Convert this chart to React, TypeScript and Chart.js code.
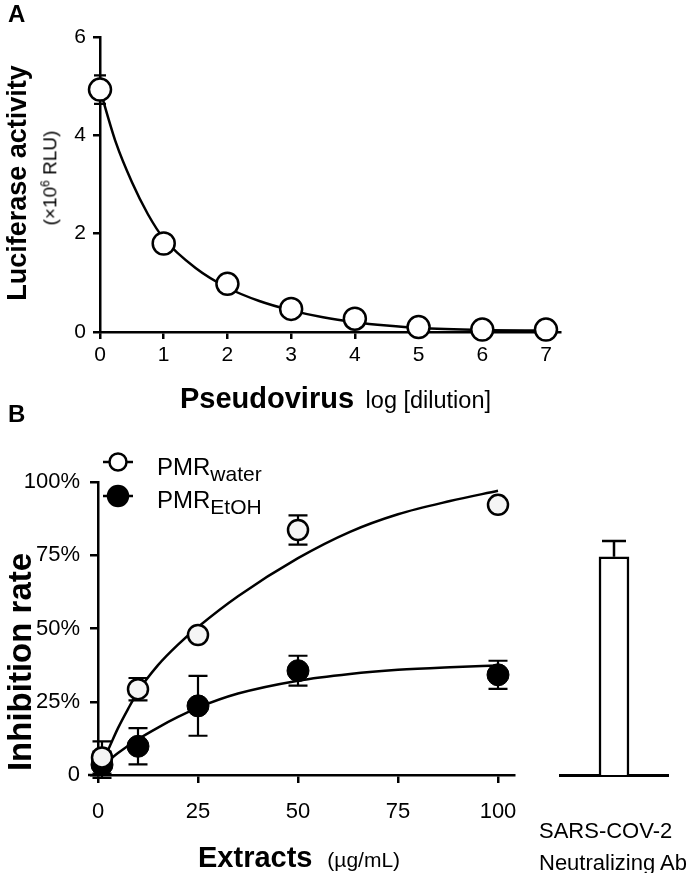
import React, { useEffect, useRef } from 'react';
import { Chart, registerables } from 'chart.js';
Chart.register(...registerables);

const FONT = '"Liberation Sans", Arial, Helvetica, sans-serif';

// ---------- Panel A data ----------
const dilutionLog = [0, 1, 2, 3, 4, 5, 6, 7];
const luciferase = [4.93, 1.8, 0.98, 0.47, 0.27, 0.1, 0.05, 0.05];
const luciferaseErr = [0.29, 0.08, 0.05, 0.04, 0.03, 0.02, 0.01, 0.01];
const fitAx = [0, 0.25, 0.5, 0.75, 1, 1.5, 2, 2.5, 3, 3.5, 4, 4.5, 5, 6, 7];
const fitAy = [4.93, 3.85, 3.05, 2.4, 1.9, 1.3, 0.9, 0.63, 0.44, 0.3, 0.2, 0.13, 0.08, 0.04, 0.03];
const xTicksA = [0, 1, 2, 3, 4, 5, 6, 7];
const yTicksA = [0, 2, 4, 6];

// ---------- Panel B data ----------
const extractDose = [1, 10, 25, 50, 100];
const pmrWater = [6, 29.3, 47.8, 83.6, 92.2];
const pmrWaterErr = [5.5, 3.8, 1.5, 5.0, 1.5];
const pmrEtoh = [3.5, 9.8, 23.6, 35.6, 34.2];
const pmrEtohErr = [4.5, 6.2, 10.2, 5.1, 4.8];
const fitWaterX = [1, 3, 5, 7.5, 10, 15, 20, 25, 35, 50, 63, 75, 88, 100];
const fitWaterY = [4, 10, 16, 22.5, 28.5, 37.5, 44.5, 50.5, 61, 74, 83, 89, 93.5, 97];
const fitEtohX = [1, 3, 5, 10, 15, 20, 25, 35, 50, 63, 75, 88, 100];
const fitEtohY = [3, 5.3, 7.5, 12.2, 16.2, 19.8, 23, 27.8, 32.2, 34.5, 35.9, 36.8, 37.4];
const xTicksB = [0, 25, 50, 75, 100];
const yTicksB = [0, 25, 50, 75, 100];
const abLabelLines = ['SARS-COV-2', 'Neutralizing Ab'];
const abValue = [74.5];
const abErr = [5.4];

const pairs = (xs: number[], ys: number[]) => xs.map((x, i) => ({ x, y: ys[i] }));

function drawErrors(chart: any, after: boolean) {
  const ctx = chart.ctx;
  chart.data.datasets.forEach((ds: any, i: number) => {
    if (!ds.errors) return;
    if (!!ds.errAfter !== after) return;
    const meta = chart.getDatasetMeta(i);
    const ys = chart.scales.y;
    ctx.save();
    ctx.strokeStyle = '#000';
    ctx.lineWidth = ds.errWidth ?? 2.2;
    meta.data.forEach((el: any, j: number) => {
      const raw = ds.data[j];
      const val = typeof raw === 'object' ? raw.y : raw;
      const e = ds.errors[j];
      const x = el.x;
      const top = ys.getPixelForValue(val + e);
      const bot = ds.errUpOnly ? ys.getPixelForValue(val) : ys.getPixelForValue(val - e);
      const w = (ds.errCap ?? 16) / 2;
      ctx.beginPath();
      ctx.moveTo(x, top);
      ctx.lineTo(x, bot);
      ctx.moveTo(x - w, top);
      ctx.lineTo(x + w, top);
      if (!ds.errUpOnly) {
        ctx.moveTo(x - w, bot);
        ctx.lineTo(x + w, bot);
      }
      ctx.stroke();
    });
    ctx.restore();
  });
}

const errorBarPlugin = {
  id: 'errBars',
  beforeDatasetsDraw(chart: any) { drawErrors(chart, false); },
  afterDatasetsDraw(chart: any) { drawErrors(chart, true); },
};

const axisStyle = (tickLen: number, pad: number, size = 21) => ({
  border: { display: true, color: '#000', width: 2.5 },
  grid: { drawOnChartArea: false, drawTicks: true, tickLength: tickLen, color: '#000', lineWidth: 2.5, tickWidth: 2.5, tickColor: '#000' },
  ticks: { color: '#000', font: { family: FONT, size }, padding: pad, autoSkip: false, maxRotation: 0 },
});

function PanelA() {
  const ref = useRef<HTMLCanvasElement>(null);
  useEffect(() => {
    const chart = new Chart(ref.current!, {
      type: 'scatter',
      data: {
        datasets: [
          {
            data: pairs(dilutionLog, luciferase),
            errors: luciferaseErr, errCap: 12, clip: false,
            pointRadius: 11, pointBackgroundColor: '#fff', pointBorderColor: '#000', pointBorderWidth: 2.5,
            showLine: false,
          } as any,
          {
            data: pairs(fitAx, fitAy), clip: false,
            showLine: true, pointRadius: 0, borderColor: '#000', borderWidth: 2.5,
            cubicInterpolationMode: 'monotone', fill: false,
          },
        ],
      },
      options: {
        animation: false, responsive: false, events: [],
        plugins: { legend: { display: false }, tooltip: { enabled: false } },
        layout: { padding: { left: 0, top: 37, right: 136, bottom: 0 } },
        scales: {
          x: {
            type: 'linear', min: 0, max: 7.22, ...axisStyle(7, 4),
            afterBuildTicks: (s: any) => { s.ticks = xTicksA.map((v) => ({ value: v })); },
            afterFit: (s: any) => { s.height = 88; },
          },
          y: {
            type: 'linear', min: 0, max: 6, ...axisStyle(7, 7),
            afterBuildTicks: (s: any) => { s.ticks = yTicksA.map((v) => ({ value: v })); },
            afterFit: (s: any) => { s.width = 100; },
          },
        },
      },
      plugins: [errorBarPlugin],
    } as any);
    return () => chart.destroy();
  }, []);
  return <canvas ref={ref} width={696} height={420} style={{ position: 'absolute', left: 0, top: 0 }} />;
}

const legendSymbolPlugin = {
  id: 'legendSym',
  afterDraw(chart: any) {
    const ctx = chart.ctx;
    const { left, bottom } = chart.chartArea;
    ctx.save();
    ctx.strokeStyle = '#000';
    ctx.lineWidth = 2.5;
    ctx.beginPath();
    ctx.moveTo(left - 10, bottom);
    ctx.lineTo(left, bottom);
    ctx.stroke();
    const items = [
      { y: 32, r: 8.5, fill: '#fff' },
      { y: 66, r: 10, fill: '#000' },
    ];
    items.forEach((it) => {
      ctx.beginPath();
      ctx.moveTo(103, it.y);
      ctx.lineTo(133, it.y);
      ctx.stroke();
      ctx.beginPath();
      ctx.arc(118, it.y, it.r, 0, Math.PI * 2);
      ctx.fillStyle = it.fill;
      ctx.fill();
      ctx.stroke();
    });
    ctx.restore();
  },
};

function PanelB() {
  const ref = useRef<HTMLCanvasElement>(null);
  useEffect(() => {
    const chart = new Chart(ref.current!, {
      type: 'scatter',
      data: {
        datasets: [
          {
            data: pairs(extractDose, pmrWater), errors: pmrWaterErr, errCap: 19, clip: false,
            pointRadius: 10, pointBackgroundColor: '#f5f5f5', pointBorderColor: '#000', pointBorderWidth: 2.5,
            showLine: false,
          } as any,
          {
            data: pairs(extractDose, pmrEtoh), errors: pmrEtohErr, errCap: 19, clip: false,
            pointRadius: 11, pointBackgroundColor: '#000', pointBorderColor: '#000', pointBorderWidth: 1,
            showLine: false,
          } as any,
          {
            data: pairs(fitWaterX, fitWaterY), showLine: true, pointRadius: 0, clip: false,
            borderColor: '#000', borderWidth: 2.5, cubicInterpolationMode: 'monotone',
          },
          {
            data: pairs(fitEtohX, fitEtohY), showLine: true, pointRadius: 0, clip: false,
            borderColor: '#000', borderWidth: 2.5, cubicInterpolationMode: 'monotone',
          },
        ],
      },
      options: {
        animation: false, responsive: false, events: [],
        plugins: { legend: { display: false }, tooltip: { enabled: false } },
        layout: { padding: { left: 0, top: 52, right: 26, bottom: 0 } },
        scales: {
          x: {
            type: 'linear', min: 0, max: 104, ...axisStyle(8, 16, 22),
            afterBuildTicks: (s: any) => { s.ticks = xTicksB.map((v) => ({ value: v })); },
            afterFit: (s: any) => { s.height = 98; },
          },
          y: {
            type: 'linear', min: 0, max: 100, ...axisStyle(8, 10, 22),
            afterBuildTicks: (s: any) => { s.ticks = yTicksB.map((v) => ({ value: v })); },
            afterFit: (s: any) => { s.width = 98; },
            ticks: { ...axisStyle(8, 10, 22).ticks, callback: (v: any) => (v === 0 ? '0' : v + '%') },
          },
        },
      },
      plugins: [errorBarPlugin, legendSymbolPlugin],
    } as any);
    return () => chart.destroy();
  }, []);
  return <canvas ref={ref} width={540} height={443} style={{ position: 'absolute', left: 0, top: 430 }} />;
}

function PanelAb() {
  const ref = useRef<HTMLCanvasElement>(null);
  useEffect(() => {
    const chart = new Chart(ref.current!, {
      type: 'bar',
      data: {
        labels: [abLabelLines.join(' ')],
        datasets: [
          {
            data: abValue, errors: abErr, errUpOnly: true, errAfter: true, errCap: 24, errWidth: 2.5,
            backgroundColor: '#fff', borderColor: '#000', borderWidth: 2.5, barThickness: 30,
            borderSkipped: 'bottom',
          } as any,
        ],
      },
      options: {
        animation: false, responsive: false, events: [],
        plugins: { legend: { display: false }, tooltip: { enabled: false } },
        layout: { padding: { left: 20, top: 52, right: 28, bottom: 0 } },
        scales: {
          x: {
            border: { display: true, color: '#000', width: 3 },
            grid: { display: false },
            ticks: { display: false },
            afterFit: (s: any) => { s.height = 98; },
          },
          y: { display: false, min: 0, max: 100 },
        },
      },
      plugins: [errorBarPlugin],
    } as any);
    return () => chart.destroy();
  }, []);
  return <canvas ref={ref} width={156} height={443} style={{ position: 'absolute', left: 540, top: 430 }} />;
}

const abs = (o: any): React.CSSProperties => ({ position: 'absolute', whiteSpace: 'nowrap', ...o });
const rot = (cx: number, cy: number, o: any = {}): React.CSSProperties =>
  abs({ left: cx, top: cy, transform: 'translate(-50%, -50%) rotate(-90deg)', ...o });

export default function App() {
  return (
    <div style={{ position: 'absolute', left: 0, top: 0, width: 696, height: 873, background: '#fff', fontFamily: FONT, color: '#000', overflow: 'hidden' }}>
      <PanelA />
      <PanelB />
      <PanelAb />
      <div style={abs({ left: 8, top: 2, fontSize: 24, fontWeight: 700, lineHeight: '24px' })}>A</div>
      <div style={abs({ left: 8, top: 402, fontSize: 24, fontWeight: 700, lineHeight: '24px' })}>B</div>

      <div style={rot(17, 183, { fontSize: 27, fontWeight: 700, lineHeight: '29px' })}>Luciferase activity</div>
      <div style={rot(48, 178, { fontSize: 19, lineHeight: '22px' })}>
        (×10<sup style={{ fontSize: 12 }}>6</sup> RLU)
      </div>
      <div style={abs({ left: 180, top: 408 - 24.5, fontSize: 29, lineHeight: '29px' })}>
        <span style={{ fontWeight: 700 }}>Pseudovirus</span>
        <span style={{ fontSize: 23.5, marginLeft: 5 }}> log [dilution]</span>
      </div>

      <div style={rot(19, 662, { fontSize: 33, fontWeight: 700, lineHeight: '33px' })}>Inhibition rate</div>
      <div style={abs({ left: 198, top: 867 - 24.5, fontSize: 29, lineHeight: '29px' })}>
        <span style={{ fontWeight: 700 }}>Extracts</span>
        <span style={{ fontSize: 21, marginLeft: 9 }}> (µg/mL)</span>
      </div>

      <div style={abs({ left: 157, top: 475 - 20.3, fontSize: 24, lineHeight: '24px' })}>
        PMR<sub style={{ fontSize: 21, verticalAlign: '-6px', lineHeight: 0 }}>water</sub>
      </div>
      <div style={abs({ left: 157, top: 508 - 20.3, fontSize: 24, lineHeight: '24px' })}>
        PMR<sub style={{ fontSize: 21, verticalAlign: '-6px', lineHeight: 0 }}>EtOH</sub>
      </div>

      <div style={abs({ left: 539, top: 815, fontSize: 22, lineHeight: '32px' })}>
        {abLabelLines.map((l) => (
          <div key={l}>{l}</div>
        ))}
      </div>
    </div>
  );
}
